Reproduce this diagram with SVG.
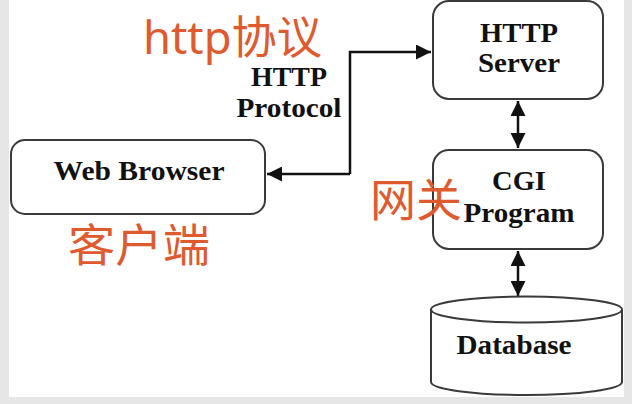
<svg xmlns="http://www.w3.org/2000/svg" width="632" height="404" viewBox="0 0 632 404">
<style>
.box{fill:#fff;stroke:#3a3a3a;stroke-width:2}
.lbl{font-family:"Liberation Serif","Times New Roman",serif;font-weight:bold;font-size:28px;fill:#111;text-anchor:middle}
.cn{font-family:"Noto Sans","Noto Sans CJK SC",sans-serif;font-size:45px;fill:#df5a2e}
.ln{fill:none;stroke:#111;stroke-width:2.5}
</style>
<defs>
<marker id="ah" viewBox="0 0 10 10" refX="10" refY="5" markerWidth="6" markerHeight="6" markerUnits="strokeWidth" orient="auto-start-reverse">
<path d="M0,0 L10,5 L0,10 z" fill="#111"/>
</marker>
</defs>
<rect x="0" y="0" width="632" height="404" fill="#e6e6e6"/>
<rect x="9" y="0" width="615" height="397" fill="#fff"/>
<g id="connectors">
<path class="ln" d="M350,174 L350,52 L431,52" marker-end="url(#ah)"/>
<path class="ln" d="M350,174 L267,174" marker-end="url(#ah)"/>
<path class="ln" d="M518,101 L518,148" marker-start="url(#ah)" marker-end="url(#ah)"/>
<path class="ln" d="M518,251 L518,296" marker-start="url(#ah)" marker-end="url(#ah)"/>
</g>
<g id="browser">
<rect class="box" x="11" y="140" width="254" height="74" rx="14"/>
<text class="lbl" x="139" y="180" textLength="171" lengthAdjust="spacingAndGlyphs">Web Browser</text>
</g>
<g id="server">
<rect class="box" x="433" y="1" width="170" height="98" rx="16"/>
<text class="lbl" x="519" y="42" textLength="78" lengthAdjust="spacingAndGlyphs">HTTP</text>
<text class="lbl" x="519" y="72" textLength="82" lengthAdjust="spacingAndGlyphs">Server</text>
</g>
<g id="cgi">
<rect class="box" x="433" y="150" width="170" height="99" rx="16"/>
<text class="lbl" x="519" y="190" textLength="54" lengthAdjust="spacingAndGlyphs">CGI</text>
<text class="lbl" x="519" y="222" textLength="111" lengthAdjust="spacingAndGlyphs">Program</text>
</g>
<g id="database">
<path class="box" d="M431,309.5 L431,382 A95.5,13 0 0 0 622,382 L622,309.5"/>
<ellipse class="box" cx="526.5" cy="309.5" rx="95.5" ry="13"/>
<text class="lbl" x="514" y="354" textLength="115" lengthAdjust="spacingAndGlyphs">Database</text>
</g>
<g id="protocol-label">
<text class="lbl" x="289" y="86" textLength="76" lengthAdjust="spacingAndGlyphs">HTTP</text>
<text class="lbl" x="289" y="117" textLength="105" lengthAdjust="spacingAndGlyphs">Protocol</text>
</g>
<g id="annotations">
<text class="cn" x="143" y="54" textLength="179" lengthAdjust="spacingAndGlyphs">http协议</text>
<text class="cn" x="68" y="262" textLength="142" lengthAdjust="spacingAndGlyphs">客户端</text>
<text class="cn" x="370" y="217" textLength="92" lengthAdjust="spacingAndGlyphs">网关</text>
</g>
</svg>
